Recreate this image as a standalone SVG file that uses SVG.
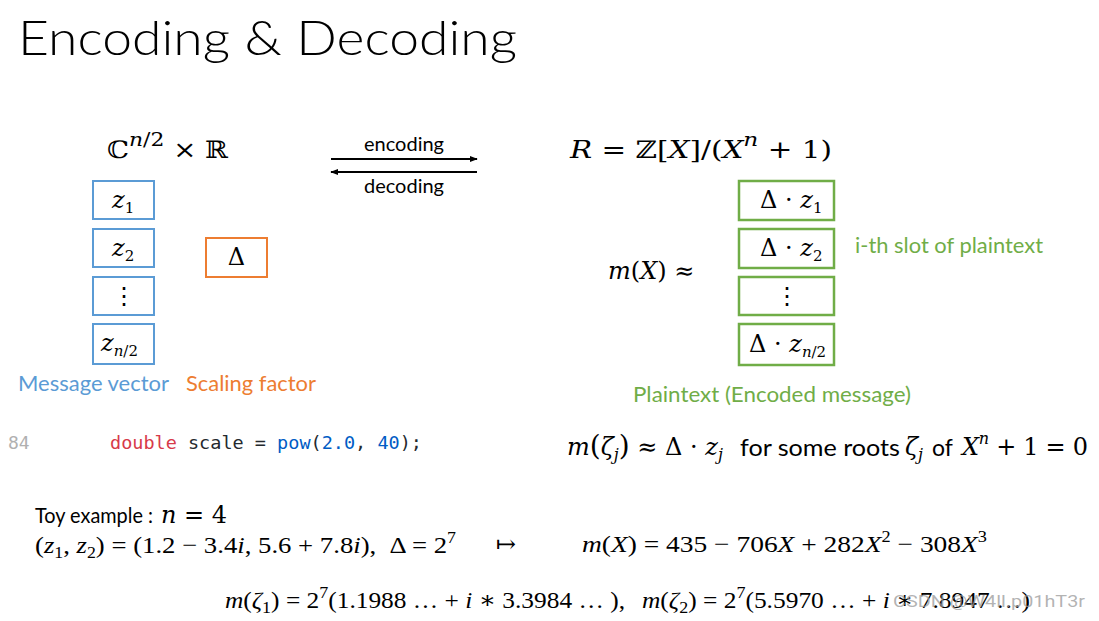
<svg xmlns="http://www.w3.org/2000/svg" width="1099" height="621" viewBox="0 0 1099 621">
<defs>
<style>
.m{font-family:"DejaVu Serif","Liberation Serif",serif;font-size:24px;fill:#000}
.lm{font-family:"Liberation Serif","DejaVu Serif",serif;font-size:24px;fill:#000}
.mi{font-style:italic}
.s{font-family:Lato,"Open Sans","Liberation Sans",sans-serif;fill:#000}
.blue{stroke:#5B9BD5;stroke-width:2;fill:#fff}
.green{stroke:#70AD47;stroke-width:2.5;fill:#fff}
.orange{stroke:#ED7D31;stroke-width:2;fill:#fff}
.code{font-family:"DejaVu Sans Mono","Liberation Mono",monospace;font-size:18px}
</style>
<marker id="ah" viewBox="0 0 10 10" refX="9" refY="5" markerWidth="8" markerHeight="8" markerUnits="userSpaceOnUse" orient="auto-start-reverse">
<path d="M0,1 L10,5 L0,9 z" fill="#000"/>
</marker>
</defs>
<rect width="1099" height="621" fill="#fff"/>

<text x="18" y="55" class="s" font-size="48" font-weight="300" textLength="499" lengthAdjust="spacingAndGlyphs">Encoding &amp; Decoding</text>

<!-- headers -->
<text x="107" y="158" class="m" font-size="28" textLength="121" lengthAdjust="spacingAndGlyphs">ℂ<tspan class="mi" font-size="19" dy="-12">n</tspan><tspan font-size="19">/2</tspan><tspan dy="12"> × ℝ</tspan></text>
<text x="570" y="158" class="m" font-size="28" textLength="262" lengthAdjust="spacingAndGlyphs"><tspan class="mi">R</tspan> = ℤ[<tspan class="mi">X</tspan>]/(<tspan class="mi">X</tspan><tspan class="mi" font-size="19" dy="-12">n</tspan><tspan dy="12"> + 1)</tspan></text>

<!-- connectors -->
<g id="connectors">
<line x1="331" y1="159" x2="477" y2="159" stroke="#000" stroke-width="2" marker-end="url(#ah)"/>
<line x1="331" y1="172" x2="477" y2="172" stroke="#000" stroke-width="2" marker-start="url(#ah)"/>
<text x="404" y="151" class="s" font-size="20" text-anchor="middle">encoding</text>
<text x="404" y="193" class="s" font-size="20" text-anchor="middle">decoding</text>
</g>

<!-- message vector -->
<g id="msg-z1"><rect x="93" y="181" width="61" height="38" class="blue"/>
<text x="112" y="208" class="m" font-size="21"><tspan class="mi">z</tspan><tspan font-size="15" dy="5">1</tspan></text></g>
<g id="msg-z2"><rect x="93" y="229" width="61" height="38" class="blue"/>
<text x="112" y="256" class="m" font-size="21"><tspan class="mi">z</tspan><tspan font-size="15" dy="5">2</tspan></text></g>
<g id="msg-dots"><rect x="93" y="277" width="61" height="38" class="blue"/>
<text x="123.5" y="304" class="m" font-size="20" text-anchor="middle">⋮</text></g>
<g id="msg-zn"><rect x="93" y="324" width="61" height="40" class="blue"/>
<text x="101" y="351" class="m" font-size="21"><tspan class="mi">z</tspan><tspan font-size="15" dy="5"><tspan class="mi">n</tspan>/2</tspan></text></g>

<g id="scale"><rect x="206" y="238" width="61" height="39" class="orange"/>
<text x="236.5" y="265" class="m" font-size="20" text-anchor="middle">Δ</text></g>

<text x="18" y="391" class="s" font-size="21" style="fill:#5B9BD5" textLength="151" lengthAdjust="spacingAndGlyphs">Message vector</text>
<text x="186" y="391" class="s" font-size="21" style="fill:#ED7D31" textLength="130" lengthAdjust="spacingAndGlyphs">Scaling factor</text>

<!-- plaintext -->
<text x="608" y="279" class="m" font-size="21"><tspan class="mi">m</tspan>(<tspan class="mi">X</tspan>) ≈</text>
<g id="pt-1"><rect x="739" y="181" width="95" height="39" class="green"/>
<text x="760" y="208" class="m" font-size="21">Δ · <tspan class="mi">z</tspan><tspan font-size="15" dy="5">1</tspan></text></g>
<g id="pt-2"><rect x="739" y="229" width="95" height="39" class="green"/>
<text x="760" y="256" class="m" font-size="21">Δ · <tspan class="mi">z</tspan><tspan font-size="15" dy="5">2</tspan></text></g>
<g id="pt-dots"><rect x="739" y="277" width="95" height="38" class="green"/>
<text x="786.5" y="304" class="m" font-size="20" text-anchor="middle">⋮</text></g>
<g id="pt-n"><rect x="739" y="324" width="95" height="41" class="green"/>
<text x="749" y="352" class="m" font-size="21">Δ · <tspan class="mi">z</tspan><tspan font-size="15" dy="5"><tspan class="mi">n</tspan>/2</tspan></text></g>

<text x="855" y="253" class="s" font-size="21" style="fill:#70AD47" textLength="188" lengthAdjust="spacingAndGlyphs">i-th slot of plaintext</text>
<text x="633" y="402" class="s" font-size="21" style="fill:#70AD47" textLength="278" lengthAdjust="spacingAndGlyphs">Plaintext (Encoded message)</text>

<!-- code -->
<text x="8" y="449" class="code" font-size="17" fill="#b0b0b0">84</text>
<text x="110" y="449" class="code" fill="#24292e" textLength="312" lengthAdjust="spacingAndGlyphs" xml:space="preserve"><tspan fill="#d73a49">double</tspan> scale = <tspan fill="#005cc5">pow</tspan>(<tspan fill="#005cc5">2.0</tspan>, <tspan fill="#005cc5">40</tspan>);</text>

<!-- roots -->
<text x="567" y="455" class="m" font-size="24"><tspan class="mi">m</tspan><tspan font-size="28">(</tspan><tspan class="mi">ζ</tspan><tspan class="mi" font-size="16" dy="5">j</tspan><tspan font-size="28" dy="-5">)</tspan> ≈ Δ · <tspan class="mi">z</tspan><tspan class="mi" font-size="16" dy="5">j</tspan></text>
<text x="740" y="456" class="s" font-size="23" textLength="160" lengthAdjust="spacingAndGlyphs">for some roots</text>
<text x="905" y="455" class="m mi" font-size="24">ζ<tspan font-size="16" dy="5">j</tspan></text>
<text x="932" y="456" class="s" font-size="23">of</text>
<text x="962" y="455" class="m" font-size="24" textLength="126" lengthAdjust="spacing"><tspan class="mi">X</tspan><tspan class="mi" font-size="16" dy="-11">n</tspan><tspan dy="11"> + 1 = 0</tspan></text>

<!-- toy example -->
<text x="35" y="523" class="s" font-size="21" textLength="118" lengthAdjust="spacingAndGlyphs">Toy example :</text>
<text x="161" y="523" class="m" font-size="23"><tspan class="mi">n</tspan> = 4</text>
<text x="35" y="553" class="lm" font-size="24" textLength="421" lengthAdjust="spacingAndGlyphs" xml:space="preserve">(<tspan class="mi">z</tspan><tspan font-size="16" dy="5">1</tspan><tspan dy="-5">, </tspan><tspan class="mi">z</tspan><tspan font-size="16" dy="5">2</tspan><tspan dy="-5">) = (1.2 − 3.4</tspan><tspan class="mi">i</tspan>, 5.6 + 7.8<tspan class="mi">i</tspan>),  Δ = 2<tspan font-size="16" dy="-10">7</tspan></text>
<text x="496" y="552" class="lm" font-size="22">↦</text>
<text x="582" y="552" class="lm" font-size="24" textLength="405" lengthAdjust="spacingAndGlyphs"><tspan class="mi">m</tspan>(<tspan class="mi">X</tspan>) = 435 − 706<tspan class="mi">X</tspan> + 282<tspan class="mi">X</tspan><tspan font-size="16" dy="-10">2</tspan><tspan dy="10"> − 308</tspan><tspan class="mi">X</tspan><tspan font-size="16" dy="-10">3</tspan></text>

<text x="225" y="608" class="lm" font-size="26" textLength="400" lengthAdjust="spacingAndGlyphs"><tspan class="mi">m</tspan>(<tspan class="mi">ζ</tspan><tspan font-size="17" dy="5">1</tspan><tspan dy="-5">) = 2</tspan><tspan font-size="17" dy="-10">7</tspan><tspan dy="10">(1.1988 … + </tspan><tspan class="mi">i</tspan> ∗ 3.3984 … ),</text>
<text x="642" y="608" class="lm" font-size="26" textLength="388" lengthAdjust="spacingAndGlyphs"><tspan class="mi">m</tspan>(<tspan class="mi">ζ</tspan><tspan font-size="17" dy="5">2</tspan><tspan dy="-5">) = 2</tspan><tspan font-size="17" dy="-10">7</tspan><tspan dy="10">(5.5970 … + </tspan><tspan class="mi">i</tspan> ∗ 7.8947 …)</text>
<text x="893" y="607" font-family="Roboto,'Liberation Sans',sans-serif" font-size="17" fill="#9a9a9a" fill-opacity="0.75" textLength="192" lengthAdjust="spacingAndGlyphs">CSDN @W4ll.p01hT3r</text>
</svg>
